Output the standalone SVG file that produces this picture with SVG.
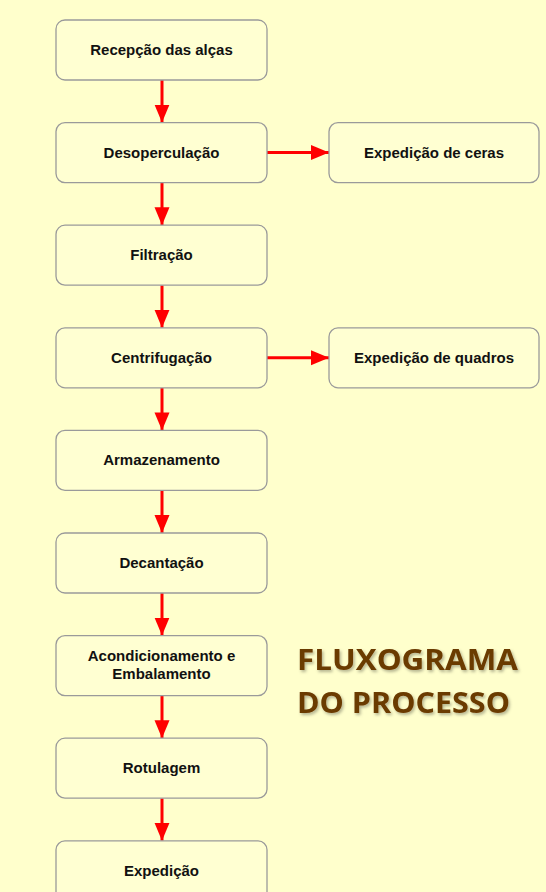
<svg xmlns="http://www.w3.org/2000/svg" width="546" height="892" viewBox="0 0 546 892">
<style>
.box{fill:#FFFFD2;stroke:#9A9A9A;stroke-width:1.3}
.lbl{font-family:"Liberation Sans Narrow","Liberation Sans",Arial,sans-serif;font-weight:bold;font-size:15px;fill:#111;text-anchor:middle}
.con{stroke:#FF0000;stroke-width:3;fill:none}
.title{font-family:"Open Sans","Liberation Sans",sans-serif;font-weight:bold;font-size:29px;fill:#6B3A06}
</style>
<defs>
<marker id="ah" markerUnits="userSpaceOnUse" markerWidth="18" markerHeight="18" viewBox="0 0 18 18" refX="18" refY="9" orient="auto">
<path d="M0,1.5 L18,9 L0,16.5 Z" fill="#FF0000"/>
</marker>
<filter id="sh" x="-10%" y="-10%" width="130%" height="140%">
<feDropShadow dx="1.5" dy="2" stdDeviation="1.5" flood-color="#000" flood-opacity="0.3"/>
</filter>
</defs>
<rect width="546" height="892" fill="#FFFFCC"/>
<g id="connectors">
<line class="con" x1="162" y1="80" x2="162" y2="122.6" marker-end="url(#ah)"/>
<line class="con" x1="162" y1="182.6" x2="162" y2="225.2" marker-end="url(#ah)"/>
<line class="con" x1="162" y1="285.2" x2="162" y2="327.8" marker-end="url(#ah)"/>
<line class="con" x1="162" y1="387.8" x2="162" y2="430.4" marker-end="url(#ah)"/>
<line class="con" x1="162" y1="490.4" x2="162" y2="533" marker-end="url(#ah)"/>
<line class="con" x1="162" y1="593" x2="162" y2="635.6" marker-end="url(#ah)"/>
<line class="con" x1="162" y1="695.6" x2="162" y2="738.2" marker-end="url(#ah)"/>
<line class="con" x1="162" y1="798.2" x2="162" y2="840.8" marker-end="url(#ah)"/>
<line class="con" x1="267" y1="152.6" x2="329" y2="152.6" marker-end="url(#ah)"/>
<line class="con" x1="267" y1="357.8" x2="329" y2="357.8" marker-end="url(#ah)"/>
</g>
<g id="n1"><rect class="box" x="56" y="20" width="211" height="60" rx="9"/><text class="lbl" x="161.5" y="55">Recepção das alças</text></g>
<g id="n2"><rect class="box" x="56" y="122.6" width="211" height="60" rx="9"/><text class="lbl" x="161.5" y="157.6">Desoperculação</text></g>
<g id="n3"><rect class="box" x="56" y="225.2" width="211" height="60" rx="9"/><text class="lbl" x="161.5" y="260.2">Filtração</text></g>
<g id="n4"><rect class="box" x="56" y="327.8" width="211" height="60" rx="9"/><text class="lbl" x="161.5" y="362.8">Centrifugação</text></g>
<g id="n5"><rect class="box" x="56" y="430.4" width="211" height="60" rx="9"/><text class="lbl" x="161.5" y="465.4">Armazenamento</text></g>
<g id="n6"><rect class="box" x="56" y="533" width="211" height="60" rx="9"/><text class="lbl" x="161.5" y="568">Decantação</text></g>
<g id="n7"><rect class="box" x="56" y="635.6" width="211" height="60" rx="9"/><text class="lbl" x="161.5" y="661">Acondicionamento e</text><text class="lbl" x="161.5" y="679">Embalamento</text></g>
<g id="n8"><rect class="box" x="56" y="738.2" width="211" height="60" rx="9"/><text class="lbl" x="161.5" y="773.2">Rotulagem</text></g>
<g id="n9"><rect class="box" x="56" y="840.8" width="211" height="60" rx="9"/><text class="lbl" x="161.5" y="875.8">Expedição</text></g>
<g id="s1"><rect class="box" x="329" y="122.6" width="210" height="60" rx="9"/><text class="lbl" x="434" y="157.6">Expedição de ceras</text></g>
<g id="s2"><rect class="box" x="329" y="327.8" width="210" height="60" rx="9"/><text class="lbl" x="434" y="362.8">Expedição de quadros</text></g>
<g id="title" filter="url(#sh)">
<text class="title" x="297" y="670" textLength="221" lengthAdjust="spacingAndGlyphs">FLUXOGRAMA</text>
<text class="title" x="297" y="713" textLength="213" lengthAdjust="spacingAndGlyphs">DO PROCESSO</text>
</g>
</svg>
